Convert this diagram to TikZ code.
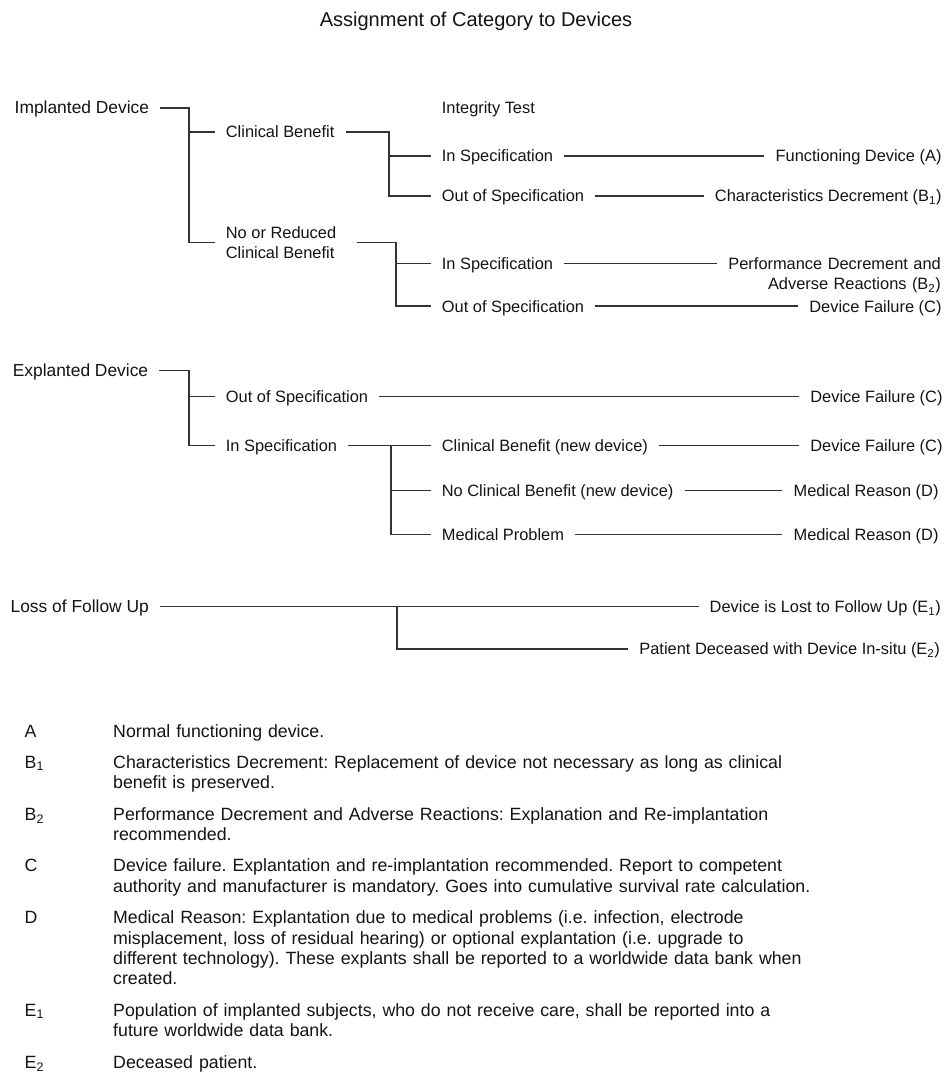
\documentclass[tikz,border=0pt]{standalone}
\usepackage{fontspec}
\setmainfont{Liberation Sans}
\usepackage{xcolor}
\usetikzlibrary{positioning}
\newcommand\titlesz{\fontsize{20pt}{24pt}\selectfont}
\newcommand\headsz{\fontsize{17.4pt}{21pt}\selectfont}
\newcommand\itemsz{\fontsize{16.4pt}{20.6pt}\selectfont}
\newcommand\legsz{\fontsize{17.75pt}{20.3pt}\selectfont\frenchspacing}
\colorlet{ink}{black!92}
\colorlet{rule}{black!80}

\begin{document}
\begin{tikzpicture}[
    x=1pt, y=-1pt,
    every node/.style={text=ink},
    conn/.style={draw=rule, line width=1.7pt},
    head/.style={anchor=west, font=\headsz, inner xsep=11pt, inner ysep=2pt,
                 text height=12.4pt, text depth=0pt},
    item/.style={anchor=west, font=\itemsz, inner xsep=11pt, inner ysep=2pt,
                 text height=11.8pt, text depth=0pt},
    item2/.style={anchor=west, font=\itemsz, inner xsep=11pt, inner ysep=2pt, align=left},
    result/.style={item, anchor=east},
    result2/.style={anchor=base east, font=\itemsz, inner xsep=11pt, inner ysep=2pt,
                    text width=213pt, align=right},
    key/.style={anchor=base west, font=\legsz, inner sep=0pt},
    note/.style={key, text width=780pt, align=left}
  ]
    \fill[white] (0,0) rectangle (947,1074);
    \useasboundingbox (0,0) rectangle (947,1074);

    \node[font=\titlesz, inner sep=0pt, anchor=base] (title) at (476,26)
      {Assignment of Category to Devices};

    % Implanted device
    \node[head] (impl) at (3.5,107.7) {Implanted Device};
    \node[item] (cb) at (214.7,131.7) {Clinical Benefit};
    \node[item2] (nored) at (214.7,242.5) {No or Reduced\\Clinical Benefit};
    \node[item] (intest) at (430.7,107.3) {Integrity Test};
    \node[item] (inspecA) at (430.7,155.7) {In Specification};
    \node[item] (outspecA) at (430.7,195.7) {Out of Specification};
    \node[item] (inspecB) at (430.7,263.5) {In Specification};
    \node[item] (outspecB) at (430.7,306.3) {Out of Specification};

    \node[result] (funcA) at (952.7,155.7) {Functioning Device (A)};
    \node[result] (charB1) at (952.7,195.7) {Characteristics Decrement (B\textsubscript{1})};
    \node[result2] (perfB2) at (952,269.3)
      {Performance Decrement and\\Adverse Reactions (B\textsubscript{2})};
    \node[result] (failC1) at (952.7,306.3) {Device Failure (C)};

    \coordinate (busA) at (189,107.7);
    \draw[conn] (impl.east) -- (busA) |- (nored.west);
    \draw[conn] (busA |- cb.west) -- (cb.west);
    \coordinate (busB) at (389,131.7);
    \draw[conn] (cb.east) -- (busB) |- (outspecA.west);
    \draw[conn] (busB |- inspecA.west) -- (inspecA.west);
    \coordinate (busC) at (395.7,242.5);
    \draw[conn] ([xshift=9.3pt]nored.east) -- (busC) |- (outspecB.west);
    \draw[conn] (busC |- inspecB.west) -- (inspecB.west);

    \draw[conn] (inspecA.east) -- (funcA.west);
    \draw[conn] (outspecA.east) -- (charB1.west);
    \draw[conn] (inspecB.east) -- (inspecB.east -| perfB2.west);
    \draw[conn] (outspecB.east) -- (failC1.west);

    % Explanted device
    \node[head] (expl) at (1.6,370.5) {Explanted Device};
    \node[item] (outspecC) at (214.7,396.5) {Out of Specification};
    \node[item] (inspecC) at (214.7,445.5) {In Specification};
    \node[item] (cbnew) at (430.7,445.5) {Clinical Benefit (new device)};
    \node[item] (nocb) at (430.7,490.5) {No Clinical Benefit (new device)};
    \node[item] (medprob) at (430.7,534.5) {Medical Problem};

    \node[result] (failC2) at (953.7,396.5) {Device Failure (C)};
    \node[result] (failC3) at (953.7,445.5) {Device Failure (C)};
    \node[result] (medD1) at (949.7,490.5) {Medical Reason (D)};
    \node[result] (medD2) at (949.7,534.5) {Medical Reason (D)};

    \coordinate (busD) at (189,370.5);
    \draw[conn] (expl.east) -- (busD) |- (inspecC.west);
    \draw[conn] (busD |- outspecC.west) -- (outspecC.west);
    \draw[conn] (outspecC.east) -- (failC2.west);
    \draw[conn] (inspecC.east) -- (cbnew.west);
    \coordinate (busE) at (390.7,445.5);
    \draw[conn] (busE) |- (medprob.west);
    \draw[conn] (busE |- nocb.west) -- (nocb.west);
    \draw[conn] (cbnew.east) -- (failC3.west);
    \draw[conn] (nocb.east) -- (medD1.west);
    \draw[conn] (medprob.east) -- (medD2.west);

    % Loss of follow up
    \node[head] (loss) at (-0.6,606.5) {Loss of Follow Up};
    \node[result] (lostE1) at (952,606.5) {Device is Lost to Follow Up (E\textsubscript{1})};
    \node[result] (deadE2) at (951,649) {Patient Deceased with Device In-situ (E\textsubscript{2})};
    \coordinate (busF) at (396.7,606.5);
    \draw[conn] (loss.east) -- (lostE1.west);
    \draw[conn] (busF) |- (deadE2.west);

    % Legend
    \node[key] (keyA) at (24.5,737) {A};
    \node[note] (noteA) at (113,737) {Normal functioning device.};
    \node[key] (keyBa) at (24.5,768.3) {B\textsubscript{1}};
    \node[note] (noteBa) at (113,768.3)
      {Characteristics Decrement: Replacement of device not necessary as long as clinical\\
       benefit is preserved.};
    \node[key] (keyBb) at (24.5,820.3) {B\textsubscript{2}};
    \node[note] (noteBb) at (113,820.3)
      {Performance Decrement and Adverse Reactions: Explanation and Re-implantation\\
       recommended.};
    \node[key] (keyC) at (24.5,871.7) {C};
    \node[note] (noteC) at (113,871.7)
      {Device failure. Explantation and re-implantation recommended. Report to competent\\
       authority and manufacturer is mandatory. Goes into cumulative survival rate calculation.};
    \node[key] (keyD) at (24.5,923.7) {D};
    \node[note] (noteD) at (113,923.7)
      {Medical Reason: Explantation due to medical problems (i.e. infection, electrode\\
       misplacement, loss of residual hearing) or optional explantation (i.e. upgrade to\\
       different technology). These explants shall be reported to a worldwide data bank when\\
       created.};
    \node[key] (keyEa) at (24.5,1016) {E\textsubscript{1}};
    \node[note] (noteEa) at (113,1016)
      {Population of implanted subjects, who do not receive care, shall be reported into a\\
       future worldwide data bank.};
    \node[key] (keyEb) at (24.5,1068.3) {E\textsubscript{2}};
    \node[note] (noteEb) at (113,1068.3) {Deceased patient.};
\end{tikzpicture}
\end{document}
